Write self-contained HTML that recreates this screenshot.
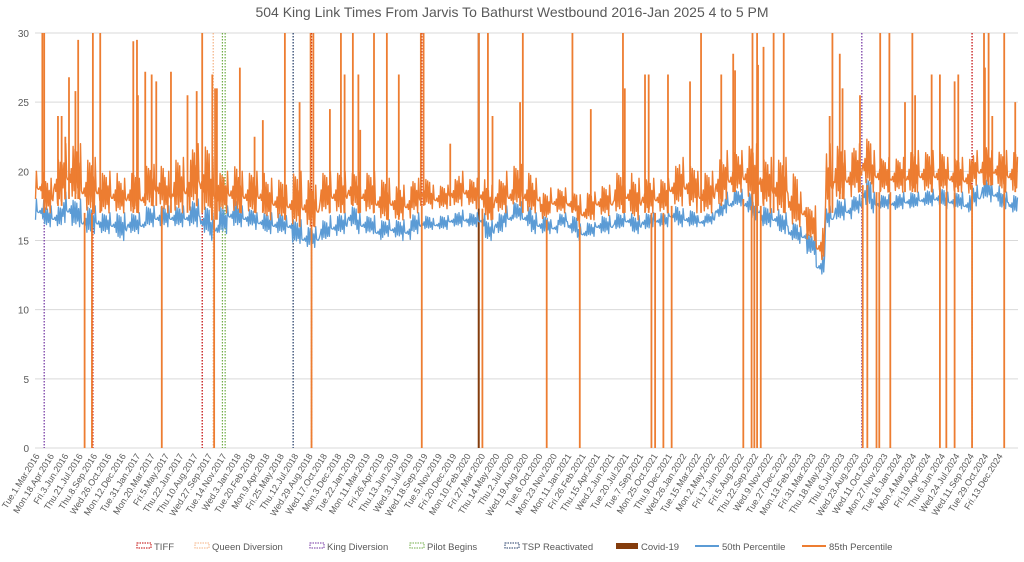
<!DOCTYPE html>
<html><head><meta charset="utf-8">
<style>
body{margin:0;background:#fff;}
svg text{font-family:"Liberation Sans",sans-serif;fill:#595959;}
</style></head>
<body>
<svg id="chart" width="1024" height="557" viewBox="0 0 1024 557" xmlns="http://www.w3.org/2000/svg">
<text x="512" y="17" text-anchor="middle" font-size="14">504 King Link Times From Jarvis To Bathurst Westbound 2016-Jan 2025 4 to 5 PM</text>
<g id="grid"></g>
<g id="ylab"></g>
<g id="events"></g>
<g id="series"></g>
<g id="xlab"></g>
<g id="legend"></g>
</svg>
<script>
// monthly envelopes, month 0 = Mar 2016
const p85Lo=[18,17,17.5,18,18,17,17,17,17,17,17,17,17.5,17.5,17,17,17,17.5,17,16.5,17,17,17,17,17,16.5,16.5,16.5,16,16,16,17,17,17,17.5,17,17,16.5,16.5,16.5,16.5,17,17.5,17.3,17.3,17.5,17.5,17.5,17.3,16.5,17,17,17.5,17,17,16.5,17,17,17,16,16.5,16.8,16.8,17,17,16.5,17,17,17,17.5,17.5,17.5,17,17,17.5,18,18.5,18,17.5,17.5,17,17,16,16,15,13.5,17,18,18,18.5,19,18.5,18.5,18.5,18.5,18.5,18.5,18.5,18.5,18.5,18.5,18.3,19,19,19,18.5,18.5];
const p85Hi=[20,19.5,21,22,22,21,21,20,20,19.5,20,19.5,20.5,20.5,20,21,21,22,22,21,20,20.5,20,20,20,19.5,19.5,19,20,19.5,19,20,20,20,20,20,20,19.5,19.5,19,19,19.5,19.5,19,19,19.5,20,19.5,19.5,19,19.5,20,20.5,20,19.5,18.5,18.8,18.8,18.5,18.3,18.5,19,19,20,20,19.5,19.5,19.5,19.5,20.5,21,20.5,20,20,21,21.5,21.5,22,22,21,21,21,20,18.5,17.5,16,22,22,21.5,22,22.5,21.5,21,21,21,21.5,21.5,21.5,21.5,21,21,21,21.5,22,21.5,21.5,21.5];
const p50Lo=[16.5,16,16,16.3,16,15.5,15.5,15.5,15.5,15,15.5,15.5,16,16,16,16,16,16,15.5,15,15.5,16,16,16,15.8,15.5,15.5,15.5,14.8,14.5,14.5,15,15.3,15.5,16,15.5,15.5,15,15.3,15.2,15,15.5,15.8,15.8,15.8,16,16,16,16,15,15.5,16,16.5,16,15.5,15.5,15.5,16,15.5,15,15.3,15.5,15.5,15.8,16,15.5,15.8,16,16,16.3,16,16,16,16.2,16.7,17,17.5,17,16.5,16,16,15.5,15,14.8,14,12.5,16,16.5,16.5,17,17.5,17,17.3,17.2,17.3,17.3,17.5,17.5,17.5,17.3,17.3,17,17.5,18,17.8,17.3,17];
const p50Hi=[18,17.5,17.5,18.5,18,17.5,17.5,17,17,17,17,17,17.5,17.5,17.5,17.5,17.5,18,17.5,17,17.5,18,17.5,17.3,17,17,17,16.8,16.5,16,16,16.5,16.8,17,17.5,17,16.8,16.5,16.5,16.5,16.5,17,16.8,16.6,16.8,17,17.2,17,17,16.5,17,17.5,17.8,17.5,17,16.8,16.5,17,16.8,16.2,16.3,16.8,16.8,17,17,16.8,17,17,17,17.5,17.3,17.2,16.8,17,17.7,18.5,18.7,18.5,18,17.5,17.3,17,16.3,16,15.5,14,17.5,18,18,18.3,19.5,18.5,18.3,18.3,18.5,18.5,18.5,18.7,18.8,18.5,18.5,18.3,19,19.5,19,18.5,18.3];
// spike events: month position and 85th percentile value
const spikeMonth=[0.8,1.0,6.3,7.1,11.1,13.2,18.2,19.3,19.6,22.3,27.2,30.0,30.3,33.3,34.6,35.2,36.9,38.3,39.6,42.0,42.3,48.3,49.3,53.1,58.5,60.5,64.0,66.8,72.5,74.7,76.0,78.1,78.6,79.3,80.4,81.5,86.8,87.6,92.0,93.0,95.5,97.6,100.5,103.3,103.8,105.5,106.7,
 2.5,2.9,3.3,3.7,4.4,4.7,10.7,11.2,12.0,12.7,14.8,16.6,17.6,19.8,23.9,24.8,28.8,32.1,33.7,35.4,45.2,49.8,52.8,64.2,66.4,68.9,71.3,76.2,78.7,86.5,87.9,89.8,94.7,95.8,98.5,100.1,103.4,104.2];
const spikeVal=[30,30,30,30,29.5,26.5,30,27,26,27.5,30,30,30,30,30,27,30,30,27,30,30,30,30,30,30,24.5,30,27,30,27,28.5,30,30,29,30,30,30,28.5,30,30,30,27,27,30,30,30,25,
 24,24,22.5,26.8,25.8,29.5,29.4,25.5,27.2,27,27.2,25.5,25.8,26,22.5,23.7,25,24.5,27,23,22,24,25,26,27,27,26.5,27.3,27.7,24,26,25.5,25,25.5,27,26.5,27.5,24];
const dropMonth=[5.4,6.2,13.8,19.5,30.1,42.1,48.7,55.7,59.3,67.1,67.5,68.4,69.3,77.1,78.0,78.3,78.6,79.0,90.1,90.6,91.6,91.9,93.1,98.5,99.2,100.1,102.0,105.5];
// event marker lines (month position)
const eventMonth=[1.0,6.3,18.2,19.4,20.4,20.7,28.1,30.1,42.1,48.3,90.0,102.0];
const eventType=["King Diversion","TIFF","TIFF","Queen Diversion","Pilot Begins","Pilot Begins","TSP Reactivated","TIFF","TIFF","Covid-19","King Diversion","TIFF"];
const yTicks=[0,5,10,15,20,25,30];
const xLabels=["Tue.1.Mar.2016","Mon.18.Apr.2016","Fri.3.Jun.2016","Thu.21.Jul.2016","Thu.8.Sep.2016","Wed.26.Oct.2016","Mon.12.Dec.2016","Tue.31.Jan.2017","Mon.20.Mar.2017","Fri.5.May.2017","Thu.22.Jun.2017","Thu.10.Aug.2017","Wed.27.Sep.2017","Tue.14.Nov.2017","Wed.3.Jan.2018","Tue.20.Feb.2018","Mon.9.Apr.2018","Fri.25.May.2018","Thu.12.Jul.2018","Wed.29.Aug.2018","Wed.17.Oct.2018","Mon.3.Dec.2018","Tue.22.Jan.2019","Mon.11.Mar.2019","Fri.26.Apr.2019","Thu.13.Jun.2019","Wed.31.Jul.2019","Wed.18.Sep.2019","Tue.5.Nov.2019","Fri.20.Dec.2019","Mon.10.Feb.2020","Fri.27.Mar.2020","Thu.14.May.2020","Thu.2.Jul.2020","Wed.19.Aug.2020","Tue.6.Oct.2020","Mon.23.Nov.2020","Mon.11.Jan.2021","Fri.26.Feb.2021","Thu.15.Apr.2021","Wed.2.Jun.2021","Tue.20.Jul.2021","Tue.7.Sep.2021","Mon.25.Oct.2021","Thu.9.Dec.2021","Wed.26.Jan.2022","Tue.15.Mar.2022","Mon.2.May.2022","Fri.17.Jun.2022","Fri.5.Aug.2022","Thu.22.Sep.2022","Wed.9.Nov.2022","Tue.27.Dec.2022","Mon.13.Feb.2023","Fri.31.Mar.2023","Thu.18.May.2023","Thu.6.Jul.2023","Wed.23.Aug.2023","Wed.11.Oct.2023","Mon.27.Nov.2023","Tue.16.Jan.2024","Mon.4.Mar.2024","Fri.19.Apr.2024","Thu.6.Jun.2024","Wed.24.Jul.2024","Wed.11.Sep.2024","Tue.29.Oct.2024","Fri.13.Dec.2024"];
const legendNames=["TIFF","Queen Diversion","King Diversion","Pilot Begins","TSP Reactivated","Covid-19","50th Percentile","85th Percentile"];

const NS="http://www.w3.org/2000/svg";
const X0=35,X1=1018,Y0=448,Y1=33,NM=p85Hi.length;
const xs=m=>X0+m*(X1-X0)/NM;
const ys=v=>Y0-v*(Y0-Y1)/30;
// visual texture pattern (fraction of envelope reached by successive peaks/troughs)
const peakShape=[1,0.55,0.85,0.35,0.95,0.65,0.45,0.9];
const troughShape=[0,0.3,0.1,0.4,0.05,0.2,0.35,0.15];
const eventStyle={"TIFF":["#C00000","1.5 1.5"],"Queen Diversion":["#F4B183","1.5 1.5"],"King Diversion":["#7030A0","1.5 1.5"],"Pilot Begins":["#70AD47","1.5 1.5"],"TSP Reactivated":["#1F3864","1.5 1.5"],"Covid-19":["#843C0C",""]};
function mk(tag,attrs,parent){const e=document.createElementNS(NS,tag);for(const k in attrs)e.setAttribute(k,attrs[k]);parent.appendChild(e);return e;}

const grid=document.getElementById('grid'),ylab=document.getElementById('ylab');
yTicks.forEach(v=>{
  const l=mk('line',{x1:X0,x2:X1,y1:ys(v),y2:ys(v),stroke:'#d9d9d9','stroke-width':1},grid);
  
  
  const t=mk('text',{x:29,y:ys(v)+4,'text-anchor':'end','font-size':10},ylab);
  t.textContent=v;
  
  
});

const ev=document.getElementById('events');
eventMonth.forEach((m,i)=>{
  const st=eventStyle[eventType[i]];
  const l=mk('line',{x1:xs(m),x2:xs(m),y1:Y1,y2:Y0,stroke:st[0],'stroke-width':eventType[i]==="Covid-19"?2:1.2,'stroke-dasharray':st[1]},ev);
  
  
});

const ser=document.getElementById('series');
function zig(lo,hi){
  let d='',c=0;
  const N=5;
  for(let m=0;m<NM;m++){
    for(let k=0;k<N;k++){
      const a=m+k/N+0.25/N,b=m+k/N+0.75/N;
      const r=hi[m]-lo[m];
      const vl=lo[m]+r*troughShape[c%troughShape.length];
      const vh=lo[m]+r*peakShape[c%peakShape.length];
      c+=3;
      d+=(d?'L':'M')+xs(a).toFixed(1)+','+ys(vl).toFixed(1)+'L'+xs(b).toFixed(1)+','+ys(vh).toFixed(1);
    }
  }
  return d;
}
const blue=mk('path',{d:zig(p50Lo,p50Hi),fill:'none',stroke:'#5B9BD5','stroke-width':1.3,'stroke-linejoin':'round'},ser);


const orange=mk('path',{d:zig(p85Lo,p85Hi),fill:'none',stroke:'#ED7D31','stroke-width':1.4,'stroke-linejoin':'round'},ser);


spikeMonth.forEach((m,i)=>{
  const b=p85Lo[Math.floor(m)];
  const l=mk('line',{x1:xs(m),x2:xs(m),y1:ys(b),y2:ys(spikeVal[i]),stroke:'#ED7D31','stroke-width':1.8},ser);
  
  
});
dropMonth.forEach(m=>{
  const b=p85Lo[Math.floor(m)];
  const l=mk('line',{x1:xs(m),x2:xs(m),y1:ys(b),y2:ys(0),stroke:'#ED7D31','stroke-width':1.8},ser);
  
  
});

const xl=document.getElementById('xlab');
const L0=40,L1=1003;
xLabels.forEach((s,i)=>{
  const x=L0+i*(L1-L0)/(xLabels.length-1);
  const t=mk('text',{x:x,y:456,'text-anchor':'end','font-size':9,transform:'rotate(-58 '+x+' 456)'},xl);
  t.textContent=s;
  
  
});

const lg=document.getElementById('legend');
const lx=[137,195,310,410,505,616,695,802];
legendNames.forEach((n,i)=>{
  const g=mk('g',{},lg);
  
  
  const x=lx[i],y=547;
  if(i<5){
    const st=eventStyle[n];
    mk('rect',{x:x,y:y-4,width:14,height:5,fill:'none',stroke:st[0],'stroke-width':1,'stroke-dasharray':'1.5 1'},g);
  }else if(i==5){
    mk('rect',{x:x,y:y-4,width:22,height:6,fill:'#843C0C'},g);
  }else{
    mk('line',{x1:x,x2:x+24,y1:y-1,y2:y-1,stroke:i==6?'#5B9BD5':'#ED7D31','stroke-width':2},g);
  }
  const t=mk('text',{x:x+(i<5?17:(i==5?25:27)),y:y+3,'font-size':9.5},g);
  t.textContent=n;
});
</script>
</body></html>
